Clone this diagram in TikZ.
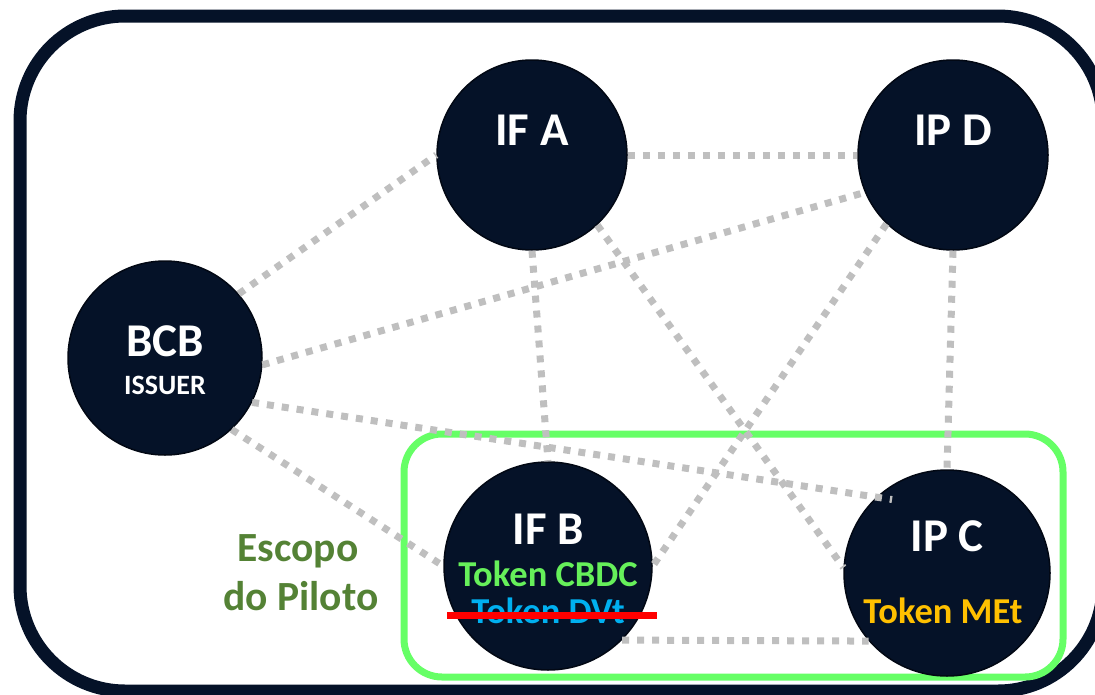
\documentclass[tikz,border=0pt]{standalone}
\usepackage{fontspec}
\setmainfont{Carlito}
\definecolor{navy}{RGB}{5,18,40}
\definecolor{rimnavy}{RGB}{2,8,20}
\definecolor{dotgray}{RGB}{191,191,191}
\definecolor{scopegreen}{RGB}{102,255,102}
\definecolor{cbdcgreen}{RGB}{102,240,90}
\definecolor{dvtblue}{RGB}{0,176,240}
\definecolor{metgold}{RGB}{255,192,0}
\definecolor{pilotgreen}{RGB}{84,130,53}
\tikzset{
  hub/.style={circle, fill=navy, draw=rimnavy, line width=1.5pt, inner sep=0pt},
  link/.style={draw=dotgray, line width=7pt, line cap=butt, dash pattern=on 7pt off 8pt},
  hubtitle/.style={anchor=base, text=white, inner sep=0pt, font=\fontsize{47}{52}\selectfont\bfseries},
  hubsub/.style={anchor=base, inner sep=0pt, font=\fontsize{36.5}{40}\selectfont\bfseries},
  scopetext/.style={anchor=base, inner sep=0pt, text=pilotgreen, font=\fontsize{41.5}{46}\selectfont\bfseries}
}
\begin{document}
\begin{tikzpicture}[x=1pt, y=-1pt]
  \useasboundingbox (0,0) rectangle (1095,694);
  \clip (0,0) rectangle (1095,694);

  % frame and pilot scope
  \draw[navy, line width=13pt, rounded corners=105pt] (20,16) rectangle (1103,691);
  \draw[scopegreen, line width=7pt, rounded corners=38pt] (404,434) rectangle (1063,677);

  % participants
  \node[hub, minimum size=190pt] (ifa) at (532,155) {};
  \node[hub, minimum size=190pt] (ipd) at (953,155) {};
  \node[hub, minimum size=194pt] (bcb) at (165,358) {};
  \node[hub, minimum size=208pt] (ifb) at (548,566) {};
  \node[hub, minimum size=206pt] (ipc) at (947,573) {};

  % links
  \draw[link] (bcb.41) -- (ifa.180);
  \draw[link] (bcb.-4) -- (ipd.203);
  \draw[link, shorten >=-16pt] (bcb.-27) -- (ipc.133);
  \draw[link] (bcb.-47) -- (ifb.180);
  \draw[link] (ifa.0) -- (ipd.180);
  \draw[link] (ifa.270) -- (ifb.90);
  \draw[link] (ifa.-47) -- (ipc.177);
  \draw[link] (ipd.226) -- (ifb.0);
  \draw[link] (ipd.270) -- (ipc.90);
  \draw[link] (ifb.-45) -- (ipc.221);

  % labels
  \node[hubtitle] (ifatitle) at ([yshift=10pt]ifa.center) {IF A};
  \node[hubtitle] (ipdtitle) at ([yshift=10pt]ipd.center) {IP D};
  \node[hubtitle] (bcbtitle) at ([yshift=2pt]bcb.center) {BCB};
  \node[hubsub, text=white, font=\fontsize{28}{32}\selectfont\bfseries] (issuer) at ([yshift=-36pt]bcb.center) {ISSUER};
  \node[hubtitle] (ifbtitle) at ([yshift=22pt]ifb.center) {IF B};
  \node[hubsub, text=cbdcgreen] (cbdc) at ([yshift=-20pt]ifb.center) {Token CBDC};
  \node[hubsub, text=dvtblue] (dvt) at ([yshift=-57pt]ifb.center) {Token DVt};
  \node[hubtitle] (ipctitle) at ([yshift=22pt]ipc.center) {IP C};
  \node[hubsub, text=metgold] (met) at ([xshift=-4pt, yshift=-50pt]ipc.center) {Token MEt};
  \draw[red, line width=7pt] (447,615.5) -- (657,615.5);

  \node[scopetext] (escopo) at (298,561) {Escopo};
  \node[scopetext] (piloto) at (301,610) {do Piloto};
\end{tikzpicture}
\end{document}
